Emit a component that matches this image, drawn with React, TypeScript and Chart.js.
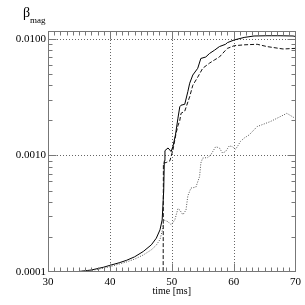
import React, { useEffect, useRef } from "react";
import { Chart, registerables } from "chart.js";

Chart.register(...registerables);

// ---- data ----
const solidTime = [33.5, 35, 37, 39, 40, 41.5, 42.7, 44, 45.4, 46.7, 47.5, 48.1, 48.45, 48.7, 48.8, 48.9, 49.4, 49.9, 50.2, 50.6, 51.0, 51.3, 51.5, 52.1, 52.6, 52.9, 53.4, 54.2, 54.7, 55.5, 56.1, 56.9, 57.7, 58.7, 59.0, 60.1, 61.7, 63.3, 65.4, 67.5, 69.6, 70];
const solidBeta = [1.0e-4, 1.01e-4, 1.04e-4, 1.1e-4, 1.14e-4, 1.2e-4, 1.26e-4, 1.35e-4, 1.5e-4, 1.71e-4, 1.95e-4, 2.3e-4, 2.8e-4, 5e-4, 9e-4, 1.1e-3, 1.16e-3, 1.08e-3, 1.2e-3, 1.5e-3, 2.09e-3, 2.62e-3, 2.7e-3, 2.75e-3, 3.53e-3, 4.17e-3, 4.9e-3, 5.6e-3, 6.8e-3, 7.0e-3, 7.5e-3, 8.0e-3, 8.6e-3, 9.0e-3, 9.3e-3, 9.8e-3, 1.03e-2, 1.06e-2, 1.065e-2, 1.065e-2, 1.06e-2, 1.05e-2];

const dashedTime = [48.6, 48.65, 49.1, 49.7, 50.2, 50.7, 51.0, 51.3, 51.5, 52.1, 52.9, 53.4, 54.2, 55.0, 56.1, 56.9, 57.7, 58.7, 59.0, 60.1, 61.7, 63.8, 65.4, 68.0, 70];
const dashedBeta = [5e-5, 8.6e-4, 8.7e-4, 9.0e-4, 1.12e-3, 1.55e-3, 1.8e-3, 2.0e-3, 2.3e-3, 2.4e-3, 3.2e-3, 4.0e-3, 4.7e-3, 5.6e-3, 6.2e-3, 6.6e-3, 7.0e-3, 8.0e-3, 8.3e-3, 8.75e-3, 8.9e-3, 9.0e-3, 8.6e-3, 8.2e-3, 8.3e-3];

const dottedTime = [33.5, 35, 37, 39, 40, 41.5, 42.7, 44, 45.4, 46.7, 47.5, 48.1, 48.5, 48.7, 49.4, 49.9, 50.5, 51.0, 51.3, 51.8, 52.3, 52.6, 53.1, 53.9, 54.5, 54.7, 55.0, 55.8, 56.3, 57.1, 57.7, 58.2, 58.7, 59.3, 59.8, 60.3, 60.6, 61.1, 61.7, 62.5, 63.3, 63.8, 65.9, 67.5, 68.6, 69.9];
const dottedBeta = [1.0e-4, 1.01e-4, 1.03e-4, 1.08e-4, 1.11e-4, 1.17e-4, 1.22e-4, 1.29e-4, 1.4e-4, 1.55e-4, 1.7e-4, 1.9e-4, 2.3e-4, 2.8e-4, 2.7e-4, 2.54e-4, 2.8e-4, 3.5e-4, 3.4e-4, 3.1e-4, 3.4e-4, 4.5e-4, 5.25e-4, 5.35e-4, 6.6e-4, 8.6e-4, 9.5e-4, 9.6e-4, 1.01e-3, 1.19e-3, 1.16e-3, 1.05e-3, 1.08e-3, 1.21e-3, 1.19e-3, 1.13e-3, 1.19e-3, 1.32e-3, 1.41e-3, 1.5e-3, 1.66e-3, 1.77e-3, 1.95e-3, 2.15e-3, 2.3e-3, 2.09e-3];

const xTicks = [30, 40, 50, 60, 70];
const yTicks = [1e-4, 1e-3, 1e-2];
const xGrid = [40, 50, 60];
const yGrid = [1e-3, 1e-2];
const xMin = 30, xMax = 70, yMin = 1e-4, yMax = 0.0117;

const FONT = "'Liberation Serif', 'DejaVu Serif', serif";

const framePlugin = {
  id: "frame",
  beforeDatasetsDraw(chart: any) {
    const { ctx, chartArea: a, scales } = chart;
    const xs = scales.x, ys = scales.y;
    ctx.save();
    ctx.strokeStyle = "#666";
    ctx.lineWidth = 1;
    ctx.setLineDash([1, 2]);
    for (const v of xGrid) {
      const px = Math.round(xs.getPixelForValue(v)) + 0.5;
      ctx.beginPath(); ctx.moveTo(px, a.top); ctx.lineTo(px, a.bottom); ctx.stroke();
    }
    for (const v of yGrid) {
      const py = Math.round(ys.getPixelForValue(v)) + 0.5;
      ctx.beginPath(); ctx.moveTo(a.left, py); ctx.lineTo(a.right, py); ctx.stroke();
    }
    ctx.restore();
  },
  afterDatasetsDraw(chart: any) {
    const { ctx, chartArea: a, scales } = chart;
    const xs = scales.x, ys = scales.y;
    ctx.save();
    ctx.strokeStyle = "#777";
    ctx.lineWidth = 1;
    ctx.setLineDash([]);
    const L = Math.round(a.left) + 0.5, R = Math.round(a.right) - 0.5;
    const T = Math.round(a.top) + 0.5, B = Math.round(a.bottom) - 0.5;
    ctx.strokeRect(L, T, R - L, B - T);
    ctx.beginPath();
    for (let t = xMin + 1; t < xMax; t++) {
      const px = Math.round(xs.getPixelForValue(t)) + 0.5;
      const len = t % 10 === 0 ? 8 : 4;
      ctx.moveTo(px, B); ctx.lineTo(px, B - len);
      ctx.moveTo(px, T); ctx.lineTo(px, T + len);
    }
    for (let d = -4; d <= -2; d++) {
      for (let m = 1; m <= 9; m++) {
        const v = m * Math.pow(10, d);
        if (v <= yMin || v > yMax) continue;
        const py = Math.round(ys.getPixelForValue(v)) + 0.5;
        const len = m === 1 ? 8 : 4;
        ctx.moveTo(L, py); ctx.lineTo(L + len, py);
        ctx.moveTo(R, py); ctx.lineTo(R - len, py);
      }
    }
    ctx.stroke();
    ctx.restore();
  },
  afterDraw(chart: any) {
    const { ctx } = chart;
    ctx.save();
    ctx.fillStyle = "#000";
    ctx.textBaseline = "alphabetic";
    ctx.textAlign = "left";
    ctx.font = `14px ${FONT}`;
    ctx.fillText("β", 23, 17);
    ctx.font = `9px ${FONT}`;
    ctx.fillText("mag", 30, 23);
    ctx.restore();
  },
};

export default function App() {
  const ref = useRef<HTMLCanvasElement | null>(null);
  useEffect(() => {
    if (!ref.current) return;
    const toPts = (ts: number[], vs: number[]) => ts.map((t, i) => ({ x: t, y: vs[i] }));
    const chart = new Chart(ref.current, {
      type: "line",
      data: {
        datasets: [
          { data: toPts(dottedTime, dottedBeta), borderColor: "#555", borderWidth: 1, borderDash: [1, 1.5], pointRadius: 0, tension: 0 },
          { data: toPts(dashedTime, dashedBeta), borderColor: "#111", borderWidth: 1, borderDash: [4, 2], pointRadius: 0, tension: 0 },
          { data: toPts(solidTime, solidBeta), borderColor: "#000", borderWidth: 1, pointRadius: 0, tension: 0 },
        ],
      },
      options: {
        animation: false,
        responsive: false,
        layout: { padding: { left: 0, right: 7, top: 31, bottom: 0 } },
        plugins: { legend: { display: false }, tooltip: { enabled: false }, title: { display: false } },
        scales: {
          x: {
            type: "linear",
            min: xMin,
            max: xMax,
            grid: { display: false, drawTicks: false },
            border: { display: false },
            afterBuildTicks: (s: any) => { s.ticks = xTicks.map((v) => ({ value: v })); },
            afterFit: (s: any) => { s.height = 33; },
            ticks: { color: "#000", font: { family: FONT, size: 11 }, padding: 4, maxRotation: 0, autoSkip: false },
            title: { display: true, text: "time [ms]", color: "#000", font: { family: FONT, size: 10 }, padding: { top: 0, bottom: 8 } },
          },
          y: {
            type: "logarithmic",
            min: yMin,
            max: yMax,
            grid: { display: false, drawTicks: false },
            border: { display: false },
            afterBuildTicks: (s: any) => { s.ticks = yTicks.map((v) => ({ value: v })); },
            afterFit: (s: any) => { s.width = 48; },
            ticks: { color: "#000", font: { family: FONT, size: 11 }, padding: 2, autoSkip: false, callback: (v: any) => Number(v).toFixed(4) },
          },
        },
      },
      plugins: [framePlugin],
    });
    return () => chart.destroy();
  }, []);
  return (
    <canvas ref={ref} width={305} height={305} style={{ position: "absolute", left: 0, top: 0, width: 305, height: 305, background: "#fff" }} />
  );
}
